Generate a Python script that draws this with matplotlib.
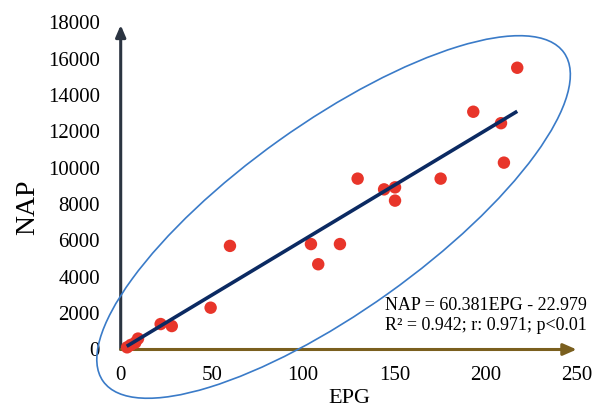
import matplotlib
matplotlib.use("Agg")
import matplotlib.pyplot as plt
from matplotlib.patches import Ellipse
from matplotlib.transforms import Affine2D

plt.rcParams['font.family'] = ['Liberation Serif', 'DejaVu Serif']

# data
epg = [3.5, 5.5, 8.0, 9.5, 21.9, 28.0, 49.3, 59.9, 104.3, 108.3, 120.2,
       129.9, 144.4, 150.4, 150.4, 175.4, 193.3, 208.5, 210.1, 217.4]
nap = [120, 250, 380, 600, 1400, 1290, 2300, 5700, 5800, 4690, 5800,
       9400, 8810, 8920, 8190, 9400, 13080, 12450, 10280, 15500]
slope = 60.381
intercept = -22.979
fit_x = [3.3, 217.4]
xticks = [0, 50, 100, 150, 200, 250]
yticks = list(range(0, 18001, 2000))
eq_line1 = "NAP = 60.381EPG - 22.979"
eq_line2 = "R² = 0.942; r: 0.971; p<0.01"

W, H = 602, 407
fig = plt.figure(figsize=(W / 100, H / 100), dpi=100)
ax = fig.add_axes([120.7 / W, 57.5 / H, 456 / W, 327.2 / H])
ax.set_xlim(0, 250)
ax.set_ylim(0, 18000)
for s in ax.spines.values():
    s.set_visible(False)
ax.set_xticks(xticks)
ax.set_yticks(yticks)
ax.tick_params(axis='both', length=0, labelsize=15)
ax.tick_params(axis='y', pad=15)
ax.tick_params(axis='x', pad=12)

# axes arrows
ax.annotate("", xy=(0, 17850), xytext=(0, 0),
            arrowprops=dict(arrowstyle="-|>,head_length=0.7,head_width=0.3",
                            color="#2b3441", lw=2.2, shrinkA=0, shrinkB=0),
            annotation_clip=False)
ax.annotate("", xy=(250, 0), xytext=(0, 0),
            arrowprops=dict(arrowstyle="-|>,head_length=0.8,head_width=0.35",
                            color="#7a5f1e", lw=2.2, shrinkA=0, shrinkB=0),
            annotation_clip=False)

# scatter
ax.scatter(epg, nap, s=80, color="#e8352a", edgecolors='none', zorder=3, clip_on=False)

# fit line
fit_y = [slope * x + intercept for x in fit_x]
ax.plot(fit_x, fit_y, color="#0b2a62", lw=2.6, solid_capstyle='butt', zorder=4, clip_on=False)

# ellipse annotation (shape in pixels, centre in data coords)
cx, cy = ax.transData.transform((116.7, 7290))
ell = Ellipse((0, 0), 2 * 283, 2 * 94, angle=35.5, fill=False,
              edgecolor="#3a7bc8", lw=1.2,
              transform=Affine2D().translate(cx, cy), clip_on=False, zorder=5)
fig.add_artist(ell)

# labels
fig.text(28 / W, 1 - 207 / H, "NAP", rotation=90, ha='center', va='center', fontsize=20)
fig.text(349 / W, 1 - 403 / H, "EPG", ha='center', va='baseline', fontsize=16)

fig.text(385 / W, 1 - 310 / H, eq_line1, ha='left', va='baseline', fontsize=13)
fig.text(385 / W, 1 - 330 / H, eq_line2, ha='left', va='baseline', fontsize=13)

fig.savefig("out.png", dpi=100)
